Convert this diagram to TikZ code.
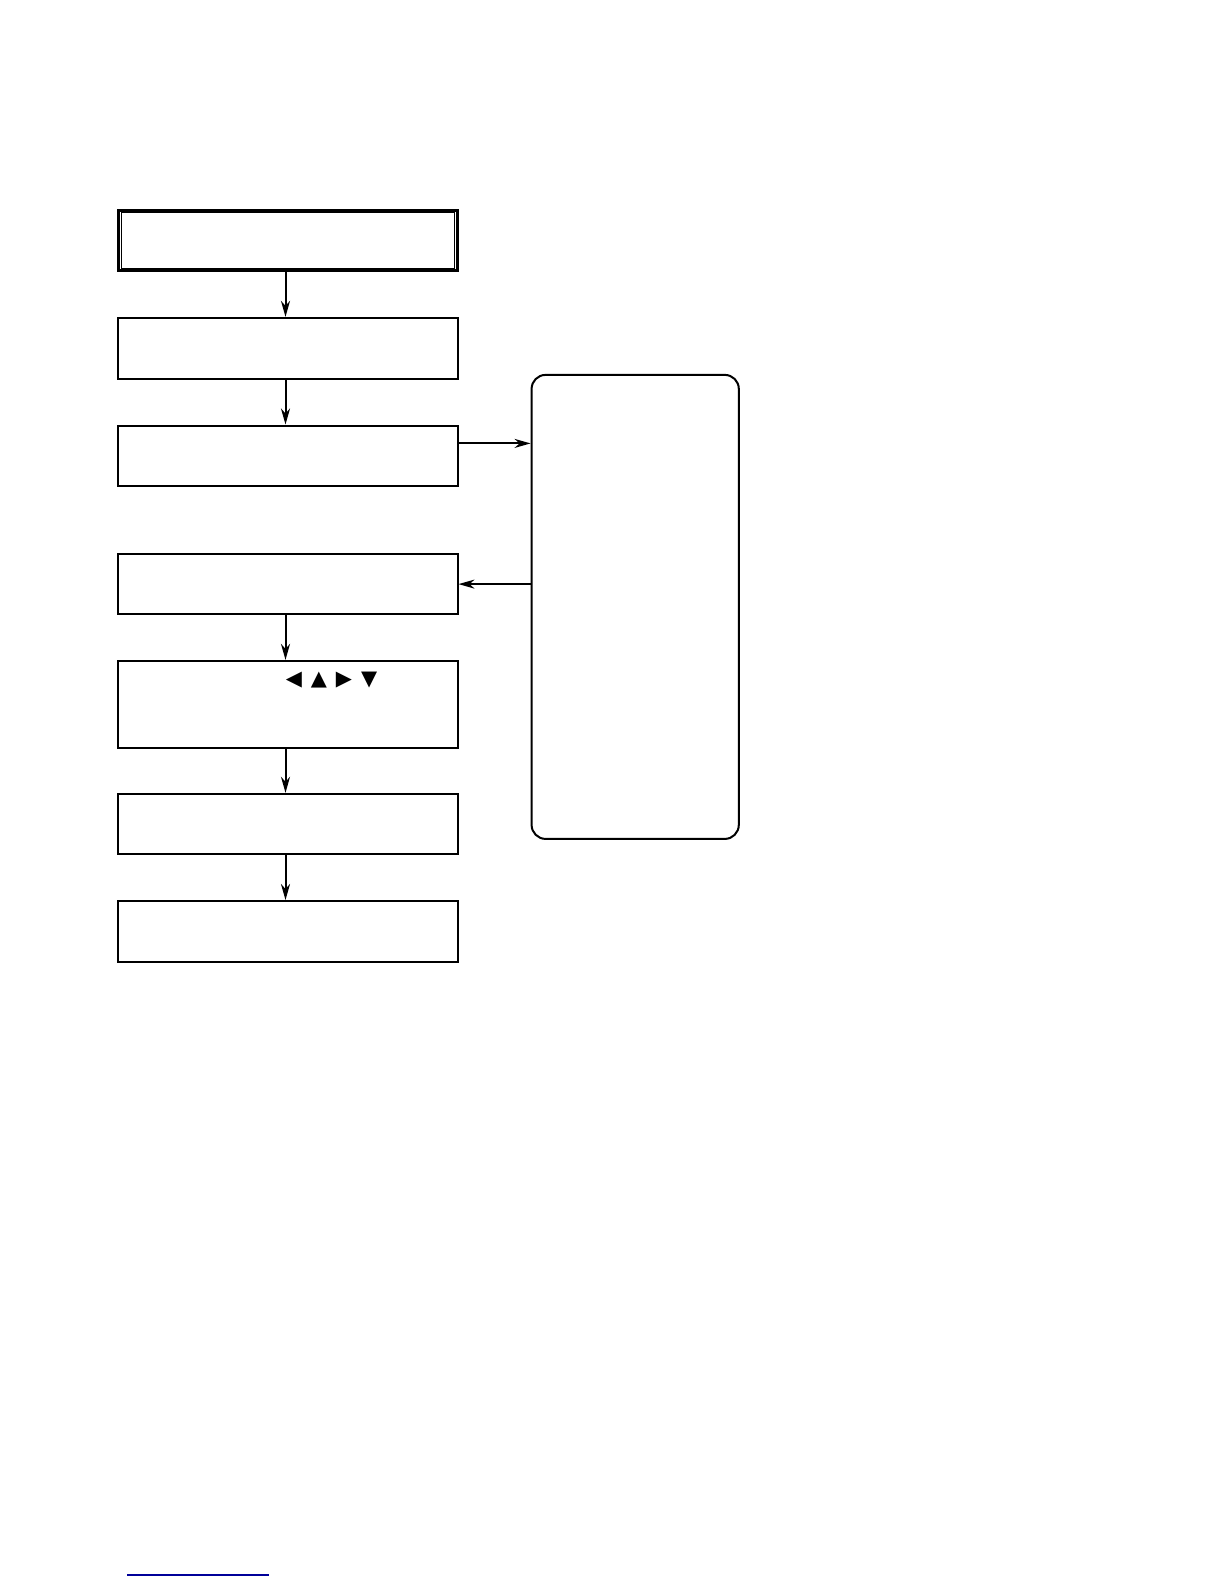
\documentclass[tikz,border=0pt]{standalone}
\usepackage{fontspec}
\newfontfamily\symfont{DejaVu Sans}
\usetikzlibrary{positioning,arrows.meta}
\tikzset{
    stepbox/.style={draw, line width=1bp, minimum width=169.5bp, minimum height=30.3bp, inner sep=0pt},
    sidebox/.style={draw, line width=1bp, rounded corners=7bp, minimum width=103.6bp, minimum height=232bp, inner sep=0pt},
    arr/.style={-{Stealth[length=8bp,width=4.5bp,inset=2.5bp]}, line width=1bp}
}
\begin{document}
\begin{tikzpicture}[x=0.5bp, y=-0.5bp]
    \useasboundingbox (0,0) rectangle (1224,1584);

    \node[stepbox, line width=1.4bp] (start) at (288,240.5) {};
    \draw[line width=0.5bp] ([shift={(2bp,-2bp)}]start.north west) rectangle ([shift={(-2bp,2bp)}]start.south east);
    \node[stepbox] (power) at (288,348.2) {};
    \node[stepbox] (send) at (288,455.8) {};
    \node[stepbox] (recv) at (288,584.1) {};
    \node[stepbox, minimum height=43.5bp] (keys) at (288,704.4) {};
    \node[stepbox] (check) at (288,824.1) {};
    \node[stepbox] (finish) at (288,931.3) {};

    \node[sidebox] (side) at (635.2,606.9) {};

    \node[font=\symfont\fontsize{10.5}{10.5}\selectfont, inner sep=0pt] (tri) at (331.5,680) {◀\hspace{4.5bp}▲\hspace{4.5bp}▶\hspace{4.5bp}▼};

    \draw[arr] ([xshift=-1.25bp]start.south) -- ([xshift=-1.25bp]power.north);
    \draw[arr] ([xshift=-1.25bp]power.south) -- ([xshift=-1.25bp]send.north);
    \draw[arr] ([xshift=-1.25bp]recv.south) -- ([xshift=-1.25bp]keys.north);
    \draw[arr] ([xshift=-1.25bp]keys.south) -- ([xshift=-1.25bp]check.north);
    \draw[arr] ([xshift=-1.25bp]check.south) -- ([xshift=-1.25bp]finish.north);

    \draw[arr] ([yshift=6.2bp]send.east) coordinate (out) -- (out -| side.west);
    \draw[arr] (side.west |- recv.east) -- (recv.east);

    \draw[blue!60!black, line width=0.6bp] (127,1575) -- (269,1575);
\end{tikzpicture}
\end{document}
